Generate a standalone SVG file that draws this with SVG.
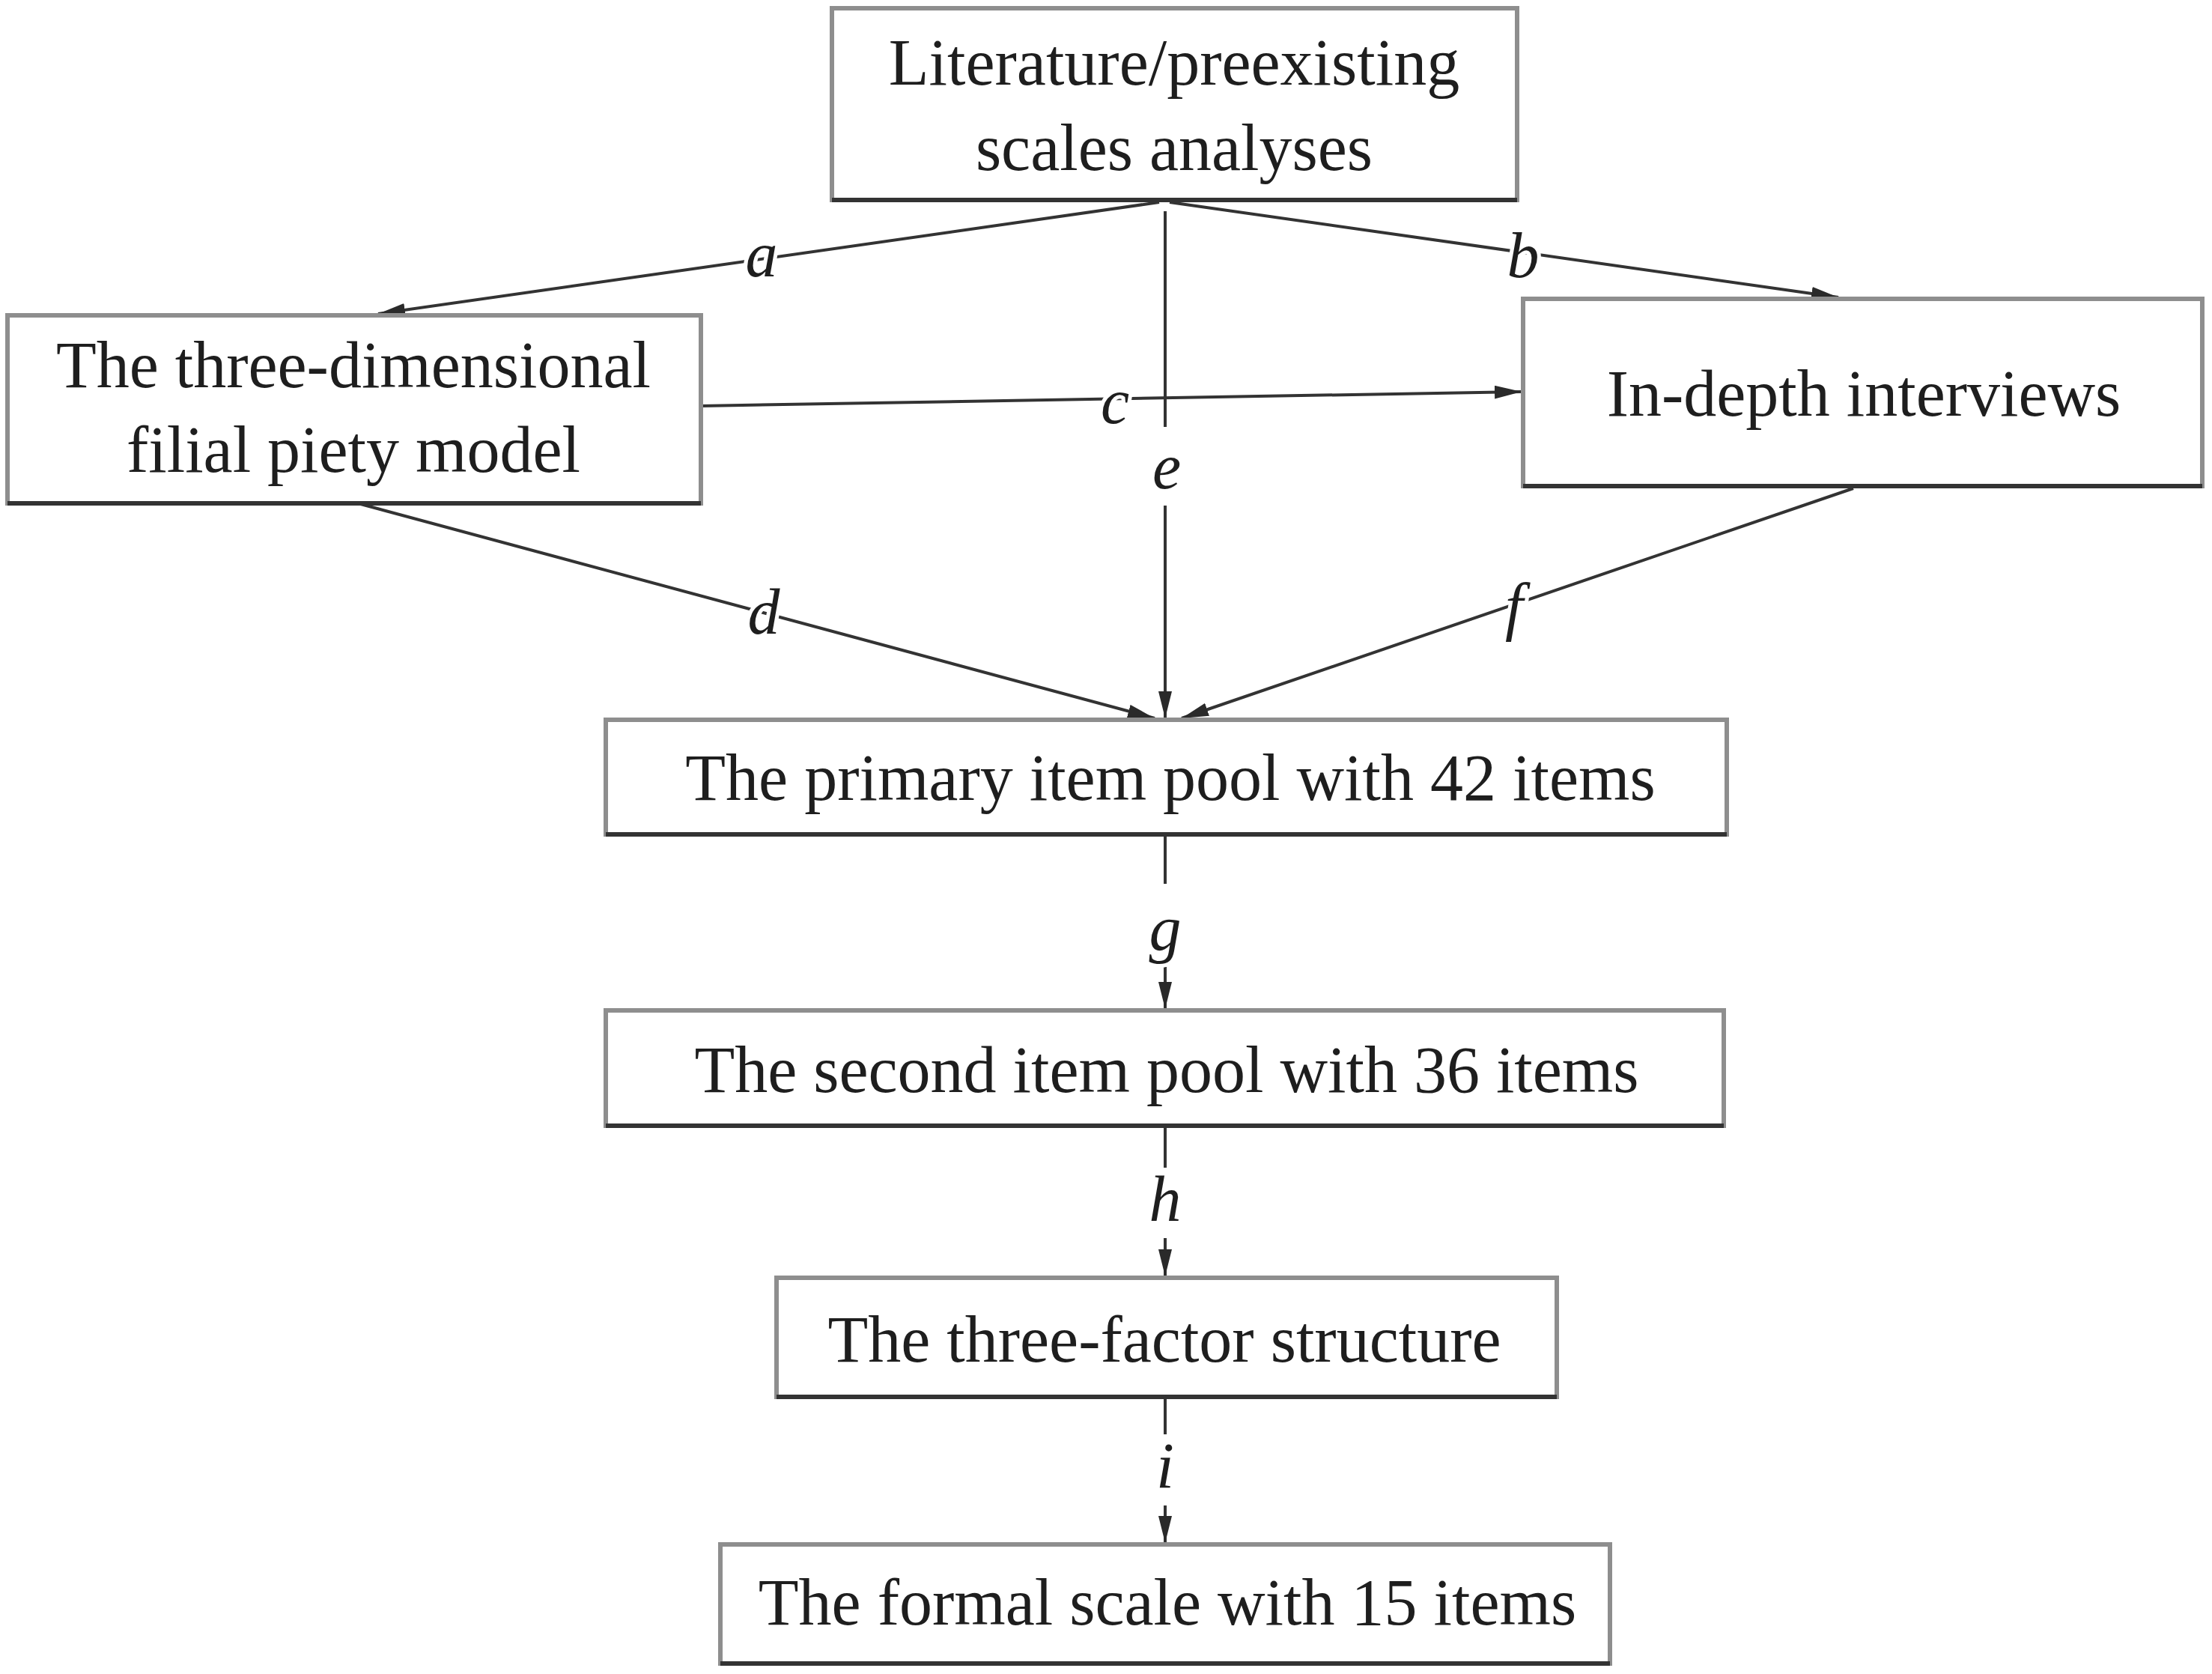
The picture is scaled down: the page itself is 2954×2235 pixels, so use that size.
<svg xmlns="http://www.w3.org/2000/svg" width="2954" height="2235" viewBox="0 0 2954 2235">
<style>
.box{fill:#fff;stroke:#8e8e8e;stroke-width:6}
.edge{stroke:#333;stroke-width:6}
.t{font-family:"Liberation Serif","Times New Roman",serif;font-size:88px;fill:#1e1e1e;text-anchor:middle}
.c{fill:none;stroke:#333;stroke-width:4}
.lbl{font-family:"Liberation Serif","Times New Roman",serif;font-style:italic;font-size:86px;fill:#1e1e1e;text-anchor:middle;stroke:#fff;stroke-width:10;paint-order:stroke;stroke-linejoin:round}
</style>
<defs>
<marker id="ah" markerUnits="userSpaceOnUse" markerWidth="36" markerHeight="18" refX="36" refY="9" orient="auto">
<path d="M0,0 L36,9 L0,18 z" fill="#2a2a2a"/>
</marker>
</defs>
<rect width="2954" height="2235" fill="#fff"/>
<g id="connectors">
<line class="c" x1="1548" y1="270" x2="505" y2="419" marker-end="url(#ah)"/>
<line class="c" x1="1562" y1="270" x2="2455" y2="397" marker-end="url(#ah)"/>
<line class="c" x1="936" y1="542" x2="2032" y2="523" marker-end="url(#ah)"/>
<line class="c" x1="1556" y1="282" x2="1556" y2="570"/>
<line class="c" x1="1556" y1="675" x2="1556" y2="959" marker-end="url(#ah)"/>
<line class="c" x1="478" y1="672" x2="1542" y2="959" marker-end="url(#ah)"/>
<line class="c" x1="2475" y1="652" x2="1578" y2="959" marker-end="url(#ah)"/>
<line class="c" x1="1556" y1="1114" x2="1556" y2="1180"/>
<line class="c" x1="1556" y1="1291" x2="1556" y2="1347" marker-end="url(#ah)"/>
<line class="c" x1="1556" y1="1503" x2="1556" y2="1559"/>
<line class="c" x1="1556" y1="1653" x2="1556" y2="1704" marker-end="url(#ah)"/>
<line class="c" x1="1556" y1="1865" x2="1556" y2="1915"/>
<line class="c" x1="1556" y1="2010" x2="1556" y2="2060" marker-end="url(#ah)"/>
<text class="lbl" x="1017" y="369">a</text>
<text class="lbl" x="2034" y="370">b</text>
<text class="lbl" x="1489" y="565">c</text>
<text class="lbl" x="1020" y="846">d</text>
<text class="lbl" x="1558" y="652">e</text>
<text class="lbl" x="2022" y="838">f</text>
<text class="lbl" x="1556" y="1268">g</text>
<text class="lbl" x="1556" y="1630">h</text>
<text class="lbl" x="1556" y="1986">i</text>
</g>
<g id="n-literature">
<rect class="box" x="1111" y="11" width="915" height="256"/>
<line class="edge" x1="1111" y1="267" x2="2026" y2="267"/>
<text class="t" x="1568" y="113">Literature/preexisting</text>
<text class="t" x="1568" y="227">scales analyses</text>
</g>
<g id="n-model">
<rect class="box" x="10" y="421" width="926" height="251"/>
<line class="edge" x1="10" y1="672" x2="936" y2="672"/>
<text class="t" x="472" y="517">The three-dimensional</text>
<text class="t" x="472" y="630">filial piety model</text>
</g>
<g id="n-interviews">
<rect class="box" x="2034" y="399" width="907" height="250"/>
<line class="edge" x1="2034" y1="649" x2="2941" y2="649"/>
<text class="t" x="2489" y="555">In-depth interviews</text>
</g>
<g id="n-primary">
<rect class="box" x="809" y="961" width="1497" height="153"/>
<line class="edge" x1="809" y1="1114" x2="2306" y2="1114"/>
<text class="t" x="1563" y="1068">The primary item pool with 42 items</text>
</g>
<g id="n-second">
<rect class="box" x="809" y="1349" width="1493" height="154"/>
<line class="edge" x1="809" y1="1503" x2="2302" y2="1503"/>
<text class="t" x="1558" y="1458">The second item pool with 36 items</text>
</g>
<g id="n-factor">
<rect class="box" x="1037" y="1706" width="1042" height="159"/>
<line class="edge" x1="1037" y1="1865" x2="2079" y2="1865"/>
<text class="t" x="1555" y="1818">The three-factor structure</text>
</g>
<g id="n-formal">
<rect class="box" x="962" y="2062" width="1188" height="159"/>
<line class="edge" x1="962" y1="2221" x2="2150" y2="2221"/>
<text class="t" x="1559" y="2169">The formal scale with 15 items</text>
</g>
</svg>
